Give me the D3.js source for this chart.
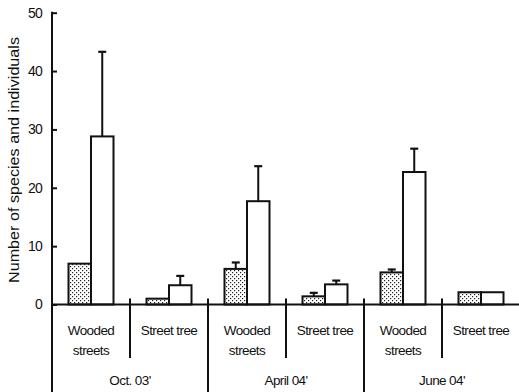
<!DOCTYPE html>
<html>
<head>
<meta charset="utf-8">
<script src="https://cdn.jsdelivr.net/npm/d3@7/dist/d3.min.js"></script>
<style>
  body { margin: 0; background: #fff; }
  svg { display: block; font-family: "Liberation Sans", Arial, sans-serif; }
</style>
</head>
<body>
<svg id="chart" width="519" height="392"></svg>
<script>
// Sampling periods and street types
const periods = ["Oct. 03'", "April 04'", "June 04'"];
const streetTypes = [["Wooded", "streets"], ["Street tree"]];
// Mean number of species (dotted bars) and individuals (open bars) per group
const speciesMean = [7.0, 1.0, 6.1, 1.4, 5.5, 2.1];
const speciesErr  = [0, 0, 1.1, 0.6, 0.5, 0];
const individualsMean = [28.8, 3.3, 17.7, 3.45, 22.7, 2.1];
const individualsErr  = [14.5, 1.6, 6.0, 0.65, 4.0, 0];
const yTicks = [0, 10, 20, 30, 40, 50];

const svg = d3.select("#chart");
const plotLeft = 52, plotRight = 520, plotTop = 12.7, base = 304.5;
const font = "'Liberation Sans', Arial, sans-serif";

const groups = d3.range(speciesMean.length);
const x = d3.scaleBand().domain(groups).range([plotLeft, plotRight]);
const y = d3.scaleLinear().domain([0, 50]).range([base, plotTop]);
const barW = 22.5;

// Dot fill for the species bars
const defs = svg.append("defs");
const pat = defs.append("pattern")
  .attr("id", "dots").attr("patternUnits", "userSpaceOnUse")
  .attr("width", 4).attr("height", 4);
pat.append("rect").attr("width", 4).attr("height", 4).attr("fill", "#fff");
pat.append("rect").attr("x", 0).attr("y", 0).attr("width", 1.2).attr("height", 1.2).attr("fill", "#222");
pat.append("rect").attr("x", 2).attr("y", 2).attr("width", 1.2).attr("height", 1.2).attr("fill", "#222");

const black = "#111";

// Error bars (drawn first so bar outlines sit on top)
function errorBars(means, errs, offset) {
  groups.forEach(i => {
    if (!errs[i]) return;
    const cx = x(i) + x.bandwidth() / 2 + offset;
    svg.append("line")
      .attr("x1", cx).attr("x2", cx)
      .attr("y1", y(means[i])).attr("y2", y(means[i] + errs[i]))
      .attr("stroke", black).attr("stroke-width", 2);
    svg.append("line")
      .attr("x1", cx - 4).attr("x2", cx + 4)
      .attr("y1", y(means[i] + errs[i])).attr("y2", y(means[i] + errs[i]))
      .attr("stroke", black).attr("stroke-width", 2.2);
  });
}
errorBars(speciesMean, speciesErr, -barW / 2);
errorBars(individualsMean, individualsErr, barW / 2);

// Bars
svg.append("g").selectAll("rect").data(groups).join("rect")
  .attr("x", i => x(i) + x.bandwidth() / 2 - barW)
  .attr("y", i => y(speciesMean[i]))
  .attr("width", barW)
  .attr("height", i => base - y(speciesMean[i]))
  .attr("fill", "url(#dots)").attr("stroke", black).attr("stroke-width", 2);

svg.append("g").selectAll("rect").data(groups).join("rect")
  .attr("x", i => x(i) + x.bandwidth() / 2)
  .attr("y", i => y(individualsMean[i]))
  .attr("width", barW)
  .attr("height", i => base - y(individualsMean[i]))
  .attr("fill", "#fff").attr("stroke", black).attr("stroke-width", 2);

// Y axis with inward ticks
const yAxis = svg.append("g")
  .attr("transform", `translate(${plotLeft},0)`)
  .call(d3.axisLeft(y).tickValues(yTicks).tickSize(-5).tickPadding(10));
yAxis.select(".domain").remove();
yAxis.selectAll(".tick line").attr("stroke", black).attr("stroke-width", 2);
yAxis.selectAll(".tick text").attr("font-size", 14).attr("fill", black)
  .attr("font-family", font).attr("letter-spacing", -0.8);
svg.append("line").attr("x1", plotLeft).attr("x2", plotLeft).attr("y1", plotTop - 1).attr("y2", 392)
  .attr("stroke", black).attr("stroke-width", 2);

// X baseline
svg.append("line").attr("x1", plotLeft).attr("x2", plotRight).attr("y1", base).attr("y2", base)
  .attr("stroke", black).attr("stroke-width", 2);

// Separators between street types and between periods
groups.slice(1).forEach(i => {
  const isPeriod = i % 2 === 0;
  svg.append("line")
    .attr("x1", x(i)).attr("x2", x(i))
    .attr("y1", base - 6).attr("y2", isPeriod ? 392 : 358)
    .attr("stroke", black).attr("stroke-width", 2);
});

// Category labels
groups.forEach(i => {
  const lines = streetTypes[i % 2];
  const cx = x(i) + x.bandwidth() / 2;
  lines.forEach((t, k) => {
    svg.append("text").attr("x", cx).attr("y", 335 + k * 19.5)
      .attr("text-anchor", "middle").attr("font-size", 13.5).attr("fill", black)
      .attr("font-family", font).attr("letter-spacing", -0.6).text(t);
  });
});
periods.forEach((p, j) => {
  const cx = x(j * 2 + 1);
  svg.append("text").attr("x", cx).attr("y", 385)
    .attr("text-anchor", "middle").attr("font-size", 13.5).attr("fill", black)
    .attr("font-family", font).attr("letter-spacing", -0.6).text(p);
});

// Y axis title
svg.append("text")
  .attr("transform", "translate(19,160) rotate(-90)")
  .attr("text-anchor", "middle").attr("font-size", 15).attr("fill", black)
  .attr("font-family", font)
  .attr("textLength", 246).attr("lengthAdjust", "spacingAndGlyphs")
  .text("Number of species and individuals");
</script>
</body>
</html>
